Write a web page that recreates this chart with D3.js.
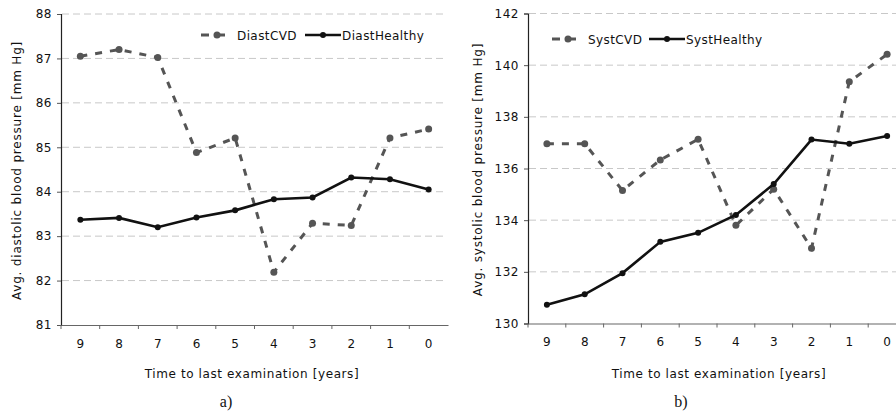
<!DOCTYPE html>
<html>
<head>
<meta charset="utf-8">
<style>
  body { margin: 0; background: #fff; }
  svg { font-family: "DejaVu Sans", Verdana, sans-serif; }
  .grid line { stroke: #c8c8c8; stroke-dasharray: 7,4; }
</style>
</head>
<body>
<svg width="896" height="413"></svg>
<script src="https://d3js.org/d3.v7.min.js"></script>
<script>

// time to last examination (years)
var years = ["9", "8", "7", "6", "5", "4", "3", "2", "1", "0"];

// panel a) diastolic
var diastCVD     = [87.05, 87.20, 87.02, 84.88, 85.21, 82.19, 83.29, 83.24, 85.21, 85.41];
var diastHealthy = [83.37, 83.41, 83.20, 83.42, 83.58, 83.83, 83.87, 84.32, 84.28, 84.05];
var diastTicks   = [81, 82, 83, 84, 85, 86, 87, 88];

// panel b) systolic
var systCVD     = [136.96, 136.96, 135.15, 136.33, 137.13, 133.80, 135.20, 132.91, 139.36, 140.42];
var systHealthy = [130.73, 131.13, 131.95, 133.16, 133.51, 134.20, 135.40, 137.12, 136.96, 137.26];
var systTicks   = [130, 132, 134, 136, 138, 140, 142];

var svg = d3.select("svg");

function panel(o) {
  var g = svg.append("g");

  var x = d3.scaleBand().domain(years).range([o.x0, o.x1]);
  var y = d3.scaleLinear().domain(o.domain).range([o.y1, o.y0]);

  // grid
  g.append("g").attr("class", "grid")
    .selectAll("line")
    .data(o.ticks.slice(1))
    .enter().append("line")
      .attr("x1", o.x0 + 1).attr("x2", o.gridEnd)
      .attr("y1", function(d) { return y(d); })
      .attr("y2", function(d) { return y(d); });

  // y axis
  var ya = g.append("g")
      .attr("transform", "translate(" + o.x0 + ",0)")
      .call(d3.axisLeft(y).tickValues(o.ticks).tickFormat(d3.format("d"))
        .tickSize(4).tickPadding(5));
  ya.select(".domain").attr("stroke", "#222").attr("stroke-width", 1.2);
  ya.selectAll(".tick line").attr("stroke", "#555");
  ya.selectAll("text").attr("font-size", 12).attr("fill", "#111")
      .attr("font-family", "DejaVu Sans").attr("letter-spacing", 0.5);

  // x axis
  var xa = g.append("g")
      .attr("transform", "translate(0," + o.y1 + ")")
      .call(d3.axisBottom(x).tickSize(0).tickPadding(14));
  xa.select(".domain").attr("stroke", "#666").attr("stroke-width", 1.2);
  xa.selectAll("text").attr("font-size", 12).attr("fill", "#111")
      .attr("font-family", "DejaVu Sans");
  // tick marks on band boundaries
  g.append("g").selectAll("line")
    .data(years)
    .enter().append("line")
      .attr("x1", function(d) { return x(d); })
      .attr("x2", function(d) { return x(d); })
      .attr("y1", o.y1).attr("y2", o.y1 + 4)
      .attr("stroke", "#666");

  var line = d3.line()
      .x(function(d, i) { return x(years[i]) + x.bandwidth() / 2; })
      .y(function(d) { return y(d); });

  // CVD dashed
  g.append("path")
      .datum(o.cvd)
      .attr("d", line)
      .attr("fill", "none")
      .attr("stroke", "#555")
      .attr("stroke-width", 3)
      .attr("stroke-dasharray", "7,8");
  g.append("g").selectAll("circle")
    .data(o.cvd)
    .enter().append("circle")
      .attr("cx", function(d, i) { return x(years[i]) + x.bandwidth() / 2; })
      .attr("cy", function(d) { return y(d); })
      .attr("r", 3.5)
      .attr("fill", "#555");

  // healthy solid
  g.append("path")
      .datum(o.healthy)
      .attr("d", line)
      .attr("fill", "none")
      .attr("stroke", "#111")
      .attr("stroke-width", 2.6);
  g.append("g").selectAll("circle")
    .data(o.healthy)
    .enter().append("circle")
      .attr("cx", function(d, i) { return x(years[i]) + x.bandwidth() / 2; })
      .attr("cy", function(d) { return y(d); })
      .attr("r", 3)
      .attr("fill", "#111");

  // legend
  var lg = g.append("g").attr("transform", "translate(" + o.lx + "," + o.ly + ")");
  lg.append("line").attr("x1", 0).attr("x2", 8).attr("y1", 0).attr("y2", 0)
      .attr("stroke", "#555").attr("stroke-width", 3);
  lg.append("line").attr("x1", 13).attr("x2", 24).attr("y1", 0).attr("y2", 0)
      .attr("stroke", "#555").attr("stroke-width", 3);
  lg.append("circle").attr("cx", 16).attr("cy", 0).attr("r", 3.5).attr("fill", "#555");
  lg.append("text").attr("x", o.t1).attr("y", 4.5).attr("font-size", 12)
      .attr("letter-spacing", 0.4)
      .attr("fill", "#111").text(o.names[0]);
  lg.append("line").attr("x1", o.s2).attr("x2", o.s2 + 36).attr("y1", 0).attr("y2", 0)
      .attr("stroke", "#111").attr("stroke-width", 2.6);
  lg.append("circle").attr("cx", o.s2 + 18).attr("cy", 0).attr("r", 3).attr("fill", "#111");
  lg.append("text").attr("x", o.s2 + 37).attr("y", 4.5).attr("font-size", 12)
      .attr("letter-spacing", 0.4)
      .attr("fill", "#111").text(o.names[1]);

  // axis titles
  g.append("text")
      .attr("transform", "translate(" + o.ytx + "," + ((o.y0 + o.y1) / 2 + 1) + ") rotate(-90)")
      .attr("text-anchor", "middle")
      .attr("font-size", 12)
      .attr("letter-spacing", 0.8)
      .attr("fill", "#111")
      .text(o.ytitle);
  g.append("text")
      .attr("x", o.xtx).attr("y", 378)
      .attr("text-anchor", "middle")
      .attr("font-size", 12)
      .attr("letter-spacing", 0.6)
      .attr("fill", "#111")
      .text("Time to last examination [years]");
  g.append("text")
      .attr("x", o.captionX).attr("y", 407)
      .attr("text-anchor", "middle")
      .attr("font-family", "Liberation Serif, serif")
      .attr("font-size", 16)
      .attr("fill", "#111")
      .text(o.caption);
}

panel({
  x0: 61, x1: 448, y0: 14, y1: 325, gridEnd: 446,
  domain: [81, 88], ticks: diastTicks,
  cvd: diastCVD, healthy: diastHealthy,
  names: ["DiastCVD", "DiastHealthy"],
  lx: 201, ly: 35, t1: 36, s2: 104,
  ytx: 21, ytitle: "Avg. diastolic blood pressure [mm Hg]",
  xtx: 252, captionX: 226, caption: "a)"
});

panel({
  x0: 528, x1: 906, y0: 13.5, y1: 323.5, gridEnd: 896,
  domain: [130, 142], ticks: systTicks,
  cvd: systCVD, healthy: systHealthy,
  names: ["SystCVD", "SystHealthy"],
  lx: 552, ly: 39, t1: 36, s2: 97,
  ytx: 482, ytitle: "Avg. systolic blood pressure [mm Hg]",
  xtx: 719, captionX: 681, caption: "b)"
});

</script>
</body>
</html>
